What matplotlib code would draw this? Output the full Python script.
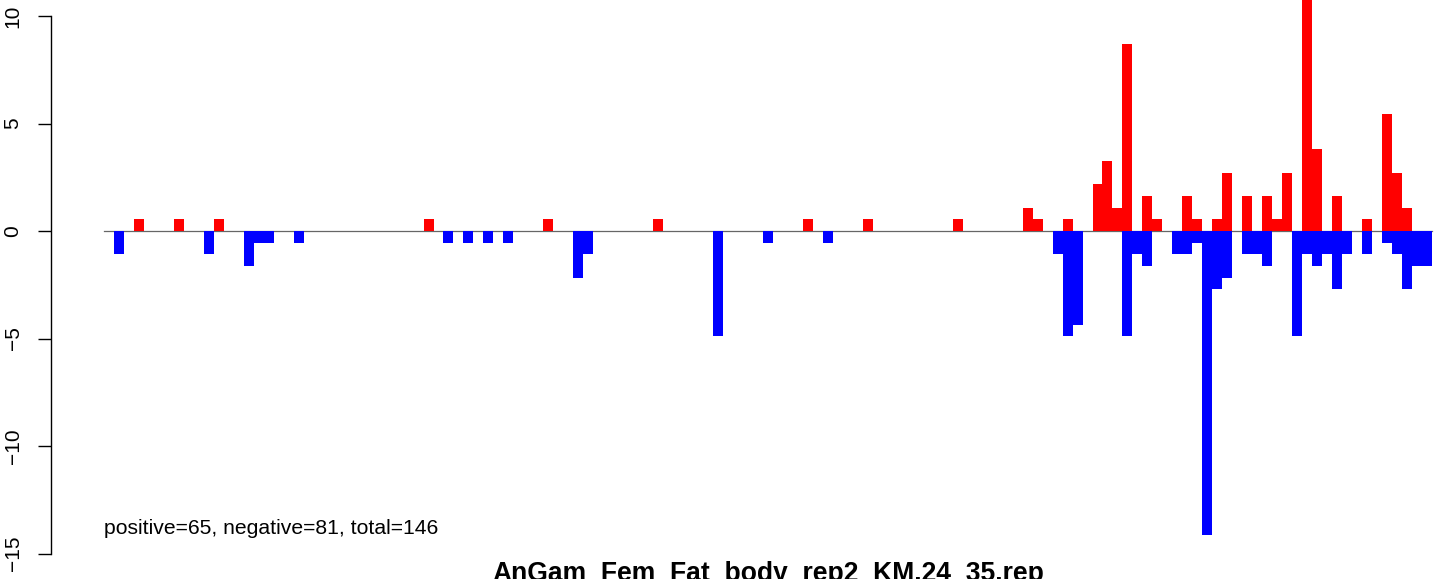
import numpy as np
import matplotlib
matplotlib.use("Agg")
import matplotlib.pyplot as plt

plt.rcParams['font.family'] = ['Liberation Sans', 'DejaVu Sans']

# bins with a positive (red) value and their heights
pos_bins = [3, 7, 11, 32, 44, 55, 70, 76, 85, 92, 93, 96, 99, 100, 101, 102,
            104, 105, 108, 109, 111, 112, 114, 116, 117, 118, 120, 121, 123,
            126, 128, 129, 130]
pos_vals = [0.54, 0.54, 0.54, 0.54, 0.54, 0.54, 0.54, 0.54, 0.54, 1.09, 0.54,
            0.54, 2.18, 3.27, 1.09, 8.71, 1.63, 0.54, 1.63, 0.54, 0.54, 2.72,
            1.63, 1.63, 0.54, 2.72, 11.4, 3.81, 1.63, 0.54, 5.45, 2.72, 1.09]

# bins with a negative (blue) value and their heights
neg_bins = [1, 10, 14, 15, 16, 19, 34, 36, 38, 40, 47, 48, 61, 66, 72, 95, 96,
            97, 102, 103, 104, 107, 108, 109, 110, 111, 112, 114, 115, 116,
            119, 120, 121, 122, 123, 124, 126, 128, 129, 130, 131, 132]
neg_vals = [-1.09, -1.09, -1.63, -0.54, -0.54, -0.54, -0.54, -0.54, -0.54,
            -0.54, -2.18, -1.09, -4.90, -0.54, -0.54, -1.09, -4.90, -4.36,
            -4.90, -1.09, -1.63, -1.09, -1.09, -0.54, -14.16, -2.72, -2.18,
            -1.09, -1.09, -1.63, -4.90, -1.09, -1.63, -1.09, -2.72, -1.09,
            -1.09, -0.54, -1.09, -2.72, -1.63, -1.63]

n_bins = 133
yticks = [-15, -10, -5, 0, 5, 10]
note = "positive=65, negative=81, total=146"
title = "AnGam_Fem_Fat_body_rep2_KM.24_35.rep"

W, H = 1444, 579
fig = plt.figure(figsize=(W / 100, H / 100), dpi=100)

# axes spans from the y axis line (x=51px) to the right edge, full height
ax_left = 51
ax = fig.add_axes([ax_left / W, 0, 1 - ax_left / W, 1])
pitch = 9.985
x0 = 104
ax.set_xlim(-(x0 - ax_left) / pitch, (W - x0) / pitch)
ppu = 21.5
zero_y = 231
ax.set_ylim(-(H - zero_y) / ppu, zero_y / ppu)

ax.bar(pos_bins, pos_vals, width=1, align='edge', color='#ff0000', linewidth=0)
ax.bar(neg_bins, neg_vals, width=1, align='edge', color='#0000ff', linewidth=0)
ax.plot([0, n_bins], [0, 0], color='#666666', linewidth=0.9, zorder=0.5)

for s in ['top', 'right', 'bottom']:
    ax.spines[s].set_visible(False)
ax.spines['left'].set_bounds(-15, 10)
ax.spines['left'].set_linewidth(1.0)
ax.set_xticks([])
ax.set_yticks(yticks)
ax.set_yticklabels([str(t).replace('-', '\u2212') for t in yticks],
                   rotation=90, va='center', fontsize=15)
ax.tick_params(axis='y', length=9.5, width=1.0, pad=11)

ax.text(0, -14.1, note, fontsize=15.2, ha='left', va='baseline')
fig.text((x0 + pitch * n_bins / 2) / W, -2 / H, title,
         fontsize=19.1, fontweight='bold', ha='center', va='baseline')

fig.savefig('out.png', dpi=100)
